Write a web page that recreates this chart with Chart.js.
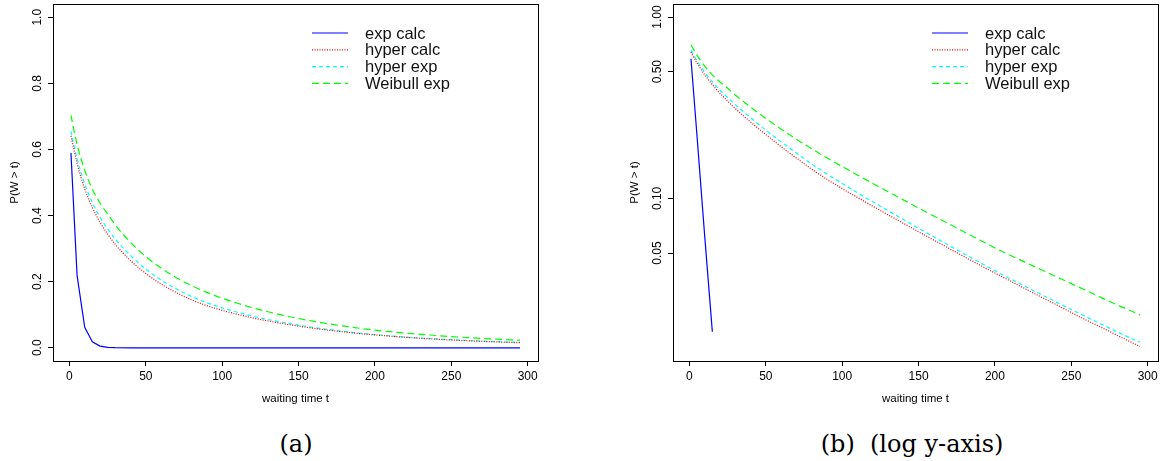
<!DOCTYPE html>
<html>
<head>
<meta charset="utf-8">
<script src="https://cdn.jsdelivr.net/npm/chart.js@4.4.1/dist/chart.umd.min.js"></script>
<style>
  body { margin: 0; background: #fff; width: 1161px; height: 461px; overflow: hidden; position: relative; }
  canvas { position: absolute; top: 0; }
  #left { left: 0; }
  #right { left: 620px; }
  .cap { position: absolute; top: 430px; line-height: 24px; font: 24px "DejaVu Serif", serif; color: #000;
         transform: translateX(-50%); white-space: pre; }
</style>
</head>
<body>
<canvas id="left" width="580" height="415"></canvas>
<canvas id="right" width="541" height="415"></canvas>
<div class="cap" style="left:296px">(a)</div>
<div class="cap" style="left:912px">(b)  (log y-axis)</div>
<script>
// waiting time grid
const tValues = [1, 5, 10, 15, 20, 25, 30, 40, 50, 60, 70, 80, 90, 100, 110, 120, 130, 140, 150,
  160, 170, 180, 190, 200, 210, 220, 230, 240, 250, 260, 270, 280, 290, 295];

const expCalc = [0.589, 0.219, 0.062, 0.0184, 0.0052, 0.0015, 0.0004, 0, 0, 0, 0, 0, 0, 0, 0, 0, 0, 0, 0,
  0, 0, 0, 0, 0, 0, 0, 0, 0, 0, 0, 0, 0, 0, 0];
const hyperCalc = [0.641, 0.558, 0.481, 0.424, 0.380, 0.344, 0.313, 0.264, 0.225, 0.193, 0.167, 0.145, 0.1275,
  0.1133, 0.1013, 0.0906, 0.0813, 0.0730, 0.0655, 0.0589, 0.0530, 0.0477, 0.0430, 0.0388, 0.0351, 0.0317,
  0.0287, 0.0260, 0.0235, 0.0213, 0.0194, 0.0176, 0.0160, 0.0153];
const hyperExp = [0.655, 0.573, 0.496, 0.439, 0.395, 0.360, 0.329, 0.279, 0.238, 0.205, 0.178, 0.155, 0.1363,
  0.1209, 0.1075, 0.0958, 0.0856, 0.0765, 0.0684, 0.0613, 0.0550, 0.0494, 0.0444, 0.0399, 0.0361, 0.0327,
  0.0296, 0.0269, 0.0244, 0.0222, 0.0202, 0.0184, 0.0168, 0.0161];
const weibullExp = [0.703, 0.615, 0.537, 0.480, 0.438, 0.405, 0.372, 0.319, 0.276, 0.241, 0.212, 0.188, 0.1675,
  0.150, 0.1346, 0.121, 0.1089, 0.0982, 0.0885, 0.0800, 0.0723, 0.0653, 0.0590, 0.0533, 0.0486, 0.0444,
  0.0406, 0.0371, 0.0339, 0.0310, 0.0283, 0.0259, 0.0238, 0.0228];

const seriesNames = ["exp calc", "hyper calc", "hyper exp", "Weibull exp"];
const xTicks = [0, 50, 100, 150, 200, 250, 300];
const linTicks = [0, 0.2, 0.4, 0.6, 0.8, 1.0];
const logTicks = [0.05, 0.1, 0.5, 1];
const expLogLastT = 15; // exp calc drops off the log plot after this

const colors = ["#0000ff", "#ff0000", "#00ffff", "#00ff00"];
const dashes = [[], [1, 1.5], [4, 3], [7, 4]];
const sans = '"Liberation Sans", Arial, Helvetica, sans-serif';

function pts(vals, maxT) {
  return tValues.map((t, i) => ({ x: t, y: vals[i] })).filter(p => p.x <= maxT);
}

function makeDatasets(log) {
  const all = [expCalc, hyperCalc, hyperExp, weibullExp];
  return all.map((vals, i) => ({
    label: seriesNames[i],
    data: pts(vals, log && i === 0 ? expLogLastT : 999),
    borderColor: colors[i],
    borderDash: dashes[i],
    borderWidth: 1.2,
    pointRadius: 0,
    fill: false,
    tension: 0,
    cubicInterpolationMode: i === 0 ? "default" : "monotone"
  }));
}

// box round the plot, rotated y tick labels, legend
const framePlugin = {
  id: "frame",
  afterDraw(chart, args, opts) {
    const { ctx, chartArea: a } = chart;
    const y = chart.scales.y;
    ctx.save();
    ctx.strokeStyle = "#000";
    ctx.lineWidth = 1;
    ctx.setLineDash([]);
    ctx.strokeRect(Math.round(a.left) + 0.5, Math.round(a.top) + 0.5,
      Math.round(a.right - a.left), Math.round(a.bottom - a.top));

    ctx.fillStyle = "#000";
    ctx.font = "12px " + sans;
    ctx.textAlign = "center";
    ctx.textBaseline = "middle";
    y.ticks.forEach(tk => {
      const py = y.getPixelForValue(tk.value);
      ctx.save();
      ctx.translate(a.left - 15, py);
      ctx.rotate(-Math.PI / 2);
      ctx.fillText(tk.value.toFixed(opts.digits), 0, 0);
      ctx.restore();
    });

    // legend
    ctx.font = "16.5px " + sans;
    ctx.textAlign = "left";
    chart.data.datasets.forEach((ds, i) => {
      const ly = a.top + 29 + i * 16.8;
      ctx.beginPath();
      ctx.strokeStyle = ds.borderColor;
      ctx.lineWidth = 1.2;
      ctx.setLineDash(ds.borderDash);
      ctx.moveTo(a.left + 259, ly);
      ctx.lineTo(a.left + 295, ly);
      ctx.stroke();
      ctx.fillStyle = "#111";
      ctx.fillText(ds.label, a.left + 312, ly + 1);
    });
    ctx.restore();
  }
};

function makeChart(id, log, padRight) {
  const yScale = log
    ? { type: "logarithmic", min: 0.0127, max: 1.18 }
    : { type: "linear", min: -0.04, max: 1.04 };
  const yTicks = log ? logTicks : linTicks;

  new Chart(document.getElementById(id), {
    type: "line",
    data: { datasets: makeDatasets(log) },
    options: {
      responsive: false,
      animation: false,
      events: [],
      layout: { padding: { top: 4, right: padRight, left: 0, bottom: 0 } },
      plugins: {
        legend: { display: false },
        tooltip: { enabled: false },
        frame: { digits: log ? 2 : 1 }
      },
      scales: {
        x: {
          type: "linear",
          min: -10.76,
          max: 306.76,
          bounds: "data",
          afterBuildTicks: s => { s.ticks = xTicks.map(v => ({ value: v })); },
          afterFit: s => { s.height = 54; },
          grid: { drawOnChartArea: false, drawTicks: true, tickLength: 5, color: "#000" },
          border: { display: true, color: "#000" },
          ticks: { font: { size: 12, family: sans }, color: "#000", padding: 3, maxRotation: 0,
                   callback: v => String(v) },
          title: { display: true, text: "waiting time t", color: "#000",
                   font: { size: 11.5, family: sans }, padding: { top: 0, bottom: 9 } }
        },
        y: {
          ...yScale,
          bounds: "data",
          afterBuildTicks: s => { s.ticks = yTicks.map(v => ({ value: v })); },
          afterFit: s => { s.width = 53; },
          grid: { drawOnChartArea: false, drawTicks: true, tickLength: 5, color: "#000" },
          border: { display: true, color: "#000" },
          ticks: { display: false },
          title: { display: true, text: "P(W > t)", color: "#000",
                   font: { size: 11.5, family: sans }, padding: { top: 8, bottom: 0 } }
        }
      }
    },
    plugins: [framePlugin]
  });
}

makeChart("left", false, 42);
makeChart("right", true, 3);
</script>
</body>
</html>
